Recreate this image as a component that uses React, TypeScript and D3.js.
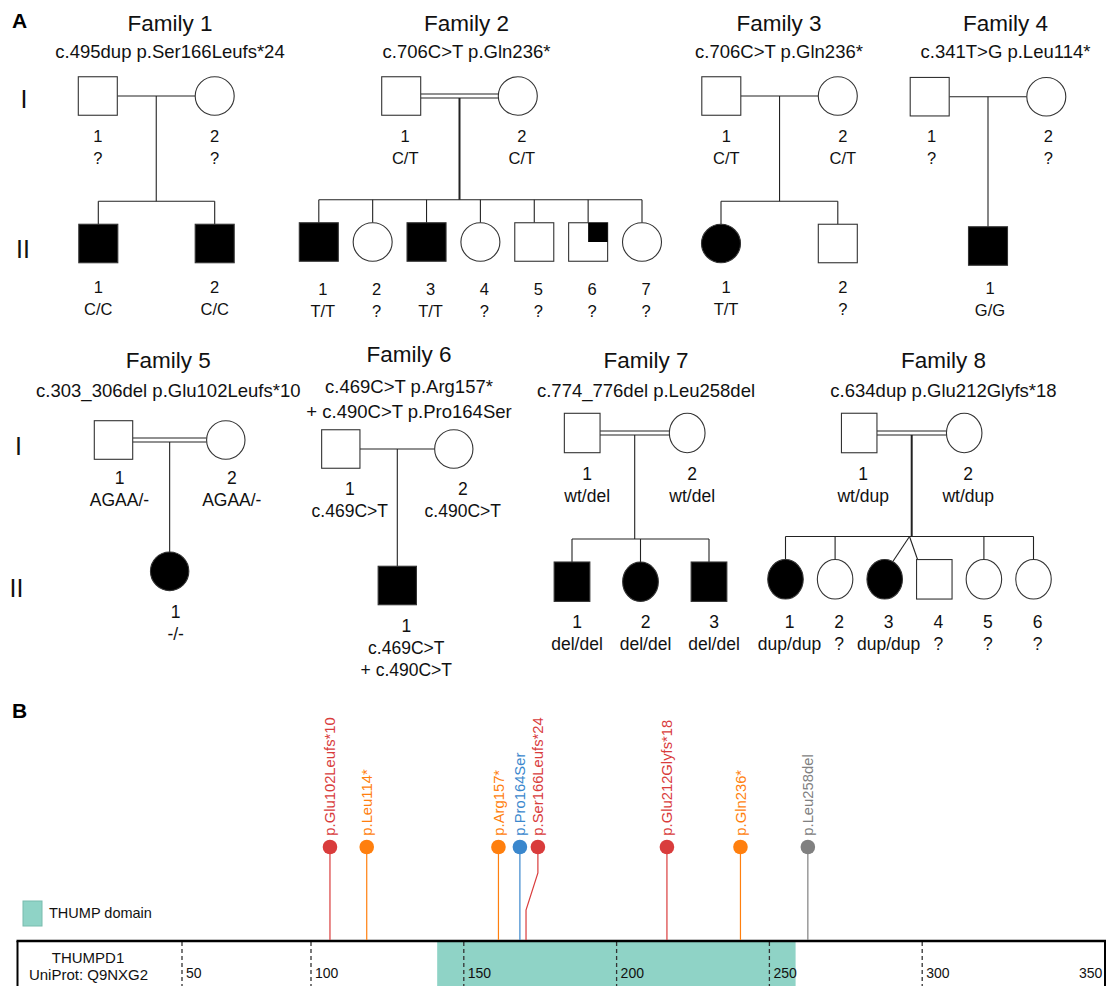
import React from "react";
import * as d3 from "d3";

const FONT = "'Liberation Sans', Arial, Helvetica, sans-serif";

// ---------- panel A: pedigrees ----------
const familyNames = ["Family 1", "Family 2", "Family 3", "Family 4", "Family 5", "Family 6", "Family 7", "Family 8"];
const familyVariants = [
  ["c.495dup p.Ser166Leufs*24"],
  ["c.706C>T p.Gln236*"],
  ["c.706C>T p.Gln236*"],
  ["c.341T>G p.Leu114*"],
  ["c.303_306del p.Glu102Leufs*10"],
  ["c.469C>T p.Arg157*", "+ c.490C>T p.Pro164Ser"],
  ["c.774_776del p.Leu258del"],
  ["c.634dup p.Glu212Glyfs*18"],
];
const consanguineous = [false, true, false, false, true, false, true, true];
// [father, mother] genotype lines
const parentGenotypes = [
  [["?"], ["?"]],
  [["C/T"], ["C/T"]],
  [["C/T"], ["C/T"]],
  [["?"], ["?"]],
  [["AGAA/-"], ["AGAA/-"]],
  [["c.469C>T"], ["c.490C>T"]],
  [["wt/del"], ["wt/del"]],
  [["wt/dup"], ["wt/dup"]],
];
// generation II: sex, status (A affected, U unaffected, Q partly shaded), genotype lines
const offspringSex = [
  ["M", "M"],
  ["M", "F", "M", "F", "M", "M", "F"],
  ["F", "M"],
  ["M"],
  ["F"],
  ["M"],
  ["M", "F", "M"],
  ["F", "F", "F", "M", "F", "F"],
];
const offspringStatus = [
  ["A", "A"],
  ["A", "U", "A", "U", "U", "Q", "U"],
  ["A", "U"],
  ["A"],
  ["A"],
  ["A"],
  ["A", "A", "A"],
  ["A", "U", "A", "U", "U", "U"],
];
const offspringGenotypes = [
  [["C/C"], ["C/C"]],
  [["T/T"], ["?"], ["T/T"], ["?"], ["?"], ["?"], ["?"]],
  [["T/T"], ["?"]],
  [["G/G"]],
  [["-/-"]],
  [["c.469C>T", "+ c.490C>T"]],
  [["del/del"], ["del/del"], ["del/del"]],
  [["dup/dup"], ["?"], ["dup/dup"], ["?"], ["?"], ["?"]],
];
const twinPairs = [null, null, null, null, null, null, null, [2, 3]];

// ---------- panel B: lollipop plot ----------
const proteinName = "THUMPD1";
const proteinId = "UniProt: Q9NXG2";
const proteinEnd = 355;
const domainName = "THUMP domain";
const domainRange = [137, 254];
const mutationLabels = [
  "p.Glu102Leufs*10", "p.Leu114*", "p.Arg157*", "p.Pro164Ser",
  "p.Ser166Leufs*24", "p.Glu212Glyfs*18", "p.Gln236*", "p.Leu258del",
];
const mutationPositions = [102, 114, 157, 164, 166, 212, 236, 258];
const mutationClasses = [
  "frameshift", "nonsense", "nonsense", "missense",
  "frameshift", "frameshift", "nonsense", "inframe",
];
const axisTicks = [50, 100, 150, 200, 250, 300, 350];

// ---------- layout (pixels) ----------
const pedLayout = [
  { tx: 170, ty: 31, sy: 58, fx: 97.8, mx: 214.7, k0: 98.3, k1: 214.7, yI: 96, yII: 243.5, w: 39, h: 38.5, lI: 45.5, lII: 49.5, dx: 0, descW: 1.1, fs: 16.5 },
  { tx: 466.5, ty: 31, sy: 58, fx: 401.2, mx: 517.8, k0: 318.8, k1: 642, yI: 96, yII: 242, w: 39, h: 38.5, lI: 45.5, lII: 53, dx: 4, descW: 2, fs: 16.5 },
  { tx: 779, ty: 31, sy: 58, fx: 721.3, mx: 837.8, k0: 721, k1: 837.8, yI: 96, yII: 243.5, w: 39, h: 38.5, lI: 45.5, lII: 49.5, dx: 5, descW: 1.1, fs: 16.5 },
  { tx: 1005.5, ty: 31, sy: 58, fx: 929.7, mx: 1046.3, k0: 988, k1: 988, yI: 96.7, yII: 246, w: 39, h: 38.5, lI: 45, lII: 47.5, dx: 2, descW: 1.1, fs: 16.5 },
  { tx: 168.3, ty: 368.3, sy: 396.7, fx: 113.5, mx: 225.8, k0: 169, k1: 169, yI: 440, yII: 571.3, w: 38.4, h: 38.6, lI: 43.5, lII: 47, dx: 6, descW: 1.1, fs: 17.5 },
  { tx: 409, ty: 361.7, sy: 393.3, fx: 340.8, mx: 453.8, k0: 397, k1: 397, yI: 449, yII: 585.5, w: 38.3, h: 38.5, lI: 46, lII: 46.2, dx: 9, descW: 1.1, fs: 17.5 },
  { tx: 646, ty: 368.3, sy: 396.7, fx: 582.2, mx: 687.2, k0: 572, k1: 709, yI: 433, yII: 581.7, w: 35.7, h: 39.4, lI: 47, lII: 46.6, dx: 5, descW: 1.1, fs: 17.5 },
  { tx: 943.5, ty: 368.3, sy: 396.7, fx: 859.2, mx: 964.2, k0: 785.5, k1: 1033.5, yI: 433, yII: 579.3, w: 35.5, h: 39.5, lI: 47, lII: 49, dx: 4, descW: 2, fs: 17.5 },
];
const genLabels = [
  { text: "I", x: 24, y: 108 },
  { text: "II", x: 23, y: 258 },
  { text: "I", x: 18.5, y: 455 },
  { text: "II", x: 16.5, y: 597 },
];

const LINE = "#222";

const Person = ({ sex, status, cx, cy, w, h }) => {
  const fill = status === "A" ? "#000" : "#fff";
  if (sex === "F") {
    return <ellipse cx={cx} cy={cy} rx={w / 2} ry={h / 2} fill={fill} stroke="#333" strokeWidth={1.1} />;
  }
  return (
    <g>
      <rect x={cx - w / 2} y={cy - h / 2} width={w} height={h} fill={fill} stroke="#333" strokeWidth={1.1} />
      {status === "Q" && <rect x={cx} y={cy - h / 2} width={w / 2} height={h / 2} fill="#000" />}
    </g>
  );
};

const Labels = ({ x, y, lines, fs }) => (
  <text x={x} y={y} textAnchor="middle" fontSize={fs} fill="#111">
    {lines.map((l, k) => (
      <tspan key={k} x={x} dy={k === 0 ? 0 : 22}>{l}</tspan>
    ))}
  </text>
);

const Pedigree = ({ i }) => {
  const L = pedLayout[i];
  const sexes = offspringSex[i];
  const n = sexes.length;
  const midX = (L.fx + L.mx) / 2;
  const kidX = d3.scalePoint().domain(d3.range(n)).range(n > 1 ? [L.k0, L.k1] : [midX, midX]);
  const sibY = L.yII - L.h / 2 - 23;
  const kidTop = L.yII - L.h / 2;
  const twins = twinPairs[i];
  const dbl = consanguineous[i];

  const drops = d3.range(n).filter((j) => !twins || !twins.includes(j));

  return (
    <g>
      <text x={L.tx} y={L.ty} textAnchor="middle" fontSize={22.5} fill="#111">{familyNames[i]}</text>
      {familyVariants[i].map((v, k) => (
        <text key={k} x={L.tx} y={L.sy + k * 25} textAnchor="middle" fontSize={18.5} fill="#111">{v}</text>
      ))}

      {/* mating line */}
      {dbl ? (
        <g stroke={LINE} strokeWidth={1.1}>
          <line x1={L.fx + L.w / 2} x2={L.mx - L.w / 2} y1={L.yI - 2} y2={L.yI - 2} />
          <line x1={L.fx + L.w / 2} x2={L.mx - L.w / 2} y1={L.yI + 2} y2={L.yI + 2} />
        </g>
      ) : (
        <line x1={L.fx + L.w / 2} x2={L.mx - L.w / 2} y1={L.yI} y2={L.yI} stroke={LINE} strokeWidth={1.1} />
      )}

      {/* descent line */}
      <line x1={midX} x2={midX} y1={L.yI + (dbl ? 2 : 0)} y2={n > 1 ? sibY : kidTop} stroke={LINE} strokeWidth={L.descW} />

      {n > 1 && (
        <line x1={kidX(0)} x2={kidX(n - 1)} y1={sibY} y2={sibY} stroke={LINE} strokeWidth={1.1} />
      )}
      {n > 1 && drops.map((j) => (
        <line key={j} x1={kidX(j)} x2={kidX(j)} y1={sibY} y2={kidTop} stroke={LINE} strokeWidth={1.1} />
      ))}
      {twins && (() => {
        const ax = (kidX(twins[0]) + kidX(twins[1])) / 2;
        return twins.map((j) => {
          const cx = kidX(j);
          const left = cx < ax;
          const ex = sexes[j] === "F" ? cx + (left ? 1 : -1) * 0.45 * L.w / 2 : cx + (left ? 1 : -1) * (L.w / 2 - 1);
          const ey = sexes[j] === "F" ? L.yII - 0.89 * L.h / 2 : kidTop;
          return <line key={j} x1={ax} y1={sibY} x2={ex} y2={ey} stroke={LINE} strokeWidth={1.1} />;
        });
      })()}

      {/* generation I */}
      <Person sex="M" status="U" cx={L.fx} cy={L.yI} w={L.w} h={L.h} />
      <Person sex="F" status="U" cx={L.mx} cy={L.yI} w={L.w} h={L.h} />
      <Labels x={L.fx + L.dx} y={L.yI + L.lI} fs={L.fs} lines={["1", ...parentGenotypes[i][0]]} />
      <Labels x={L.mx + L.dx} y={L.yI + L.lI} fs={L.fs} lines={["2", ...parentGenotypes[i][1]]} />

      {/* generation II */}
      {sexes.map((s, j) => (
        <g key={j}>
          <Person sex={s} status={offspringStatus[i][j]} cx={kidX(j)} cy={L.yII} w={L.w} h={L.h} />
          <Labels x={kidX(j) + L.dx} y={L.yII + L.lII} fs={L.fs} lines={[String(j + 1), ...offspringGenotypes[i][j]]} />
        </g>
      ))}
    </g>
  );
};

export default function App() {
  // protein coordinate -> x
  const xProt = d3.scaleLinear().domain([0, proteinEnd]).range([17.5, 1105]);
  // tick marks as printed on the original axis
  const tickX = d3.scaleLinear().domain([50, 100, 350]).range([182, 311, 1075]);
  const color = d3
    .scaleOrdinal<string, string>()
    .domain(["frameshift", "nonsense", "missense", "inframe"])
    .range(["#d93c3c", "#ff7f0e", "#3a87cd", "#808080"]);

  const axisY = 941;
  const headY = 847;
  const r = 7.3;
  const bendTop = 873;
  const bendBottom = 910;
  const minGap = 18;

  // push heads apart when they would overlap
  let prev = -Infinity;
  const heads = mutationPositions.map((p, i) => {
    const x = xProt(p);
    const hx = Math.max(x, prev + minGap);
    prev = hx;
    return { x, hx, label: mutationLabels[i], c: color(mutationClasses[i]) };
  });

  const boxLeft = xProt(0);
  const boxRight = xProt(proteinEnd);
  const teal = "#8fd3c6";

  return (
    <div style={{ position: "absolute", left: 0, top: 0 }}>
      <svg width={1111} height={986} style={{ display: "block", fontFamily: FONT }}>
        <rect width={1111} height={986} fill="#fff" />

        <text x={12} y={28} fontSize={21} fontWeight="bold">A</text>
        <text x={12} y={718} fontSize={21} fontWeight="bold">B</text>

        {genLabels.map((g, k) => (
          <text key={k} x={g.x} y={g.y} textAnchor="middle" fontSize={25} fill="#111">{g.text}</text>
        ))}

        {familyNames.map((_, i) => <Pedigree key={i} i={i} />)}

        {/* legend */}
        <rect x={23} y={901} width={19} height={25} fill={teal} stroke="#78bcae" strokeWidth={1} />
        <text x={49} y={918} fontSize={14.5} fill="#111">{domainName}</text>

        {/* domain and protein box */}
        <rect x={xProt(domainRange[0])} y={axisY} width={xProt(domainRange[1]) - xProt(domainRange[0])} height={60} fill={teal} />
        {axisTicks.slice(0, -1).map((t) => (
          <line key={t} x1={tickX(t)} x2={tickX(t)} y1={axisY + 1} y2={990} stroke="#333" strokeWidth={1.3} strokeDasharray="4 3" />
        ))}
        {axisTicks.map((t) => (
          <text key={t} x={tickX(t) + 4} y={978.3} fontSize={14} fill="#111">{t}</text>
        ))}
        <line x1={boxLeft} x2={boxLeft} y1={axisY} y2={990} stroke="#000" strokeWidth={2} />
        <line x1={boxRight} x2={boxRight} y1={axisY} y2={990} stroke="#000" strokeWidth={2} />
        <line x1={boxLeft - 1} x2={boxRight + 1} y1={axisY} y2={axisY} stroke="#000" strokeWidth={2.6} />
        <text x={88} y={962.7} textAnchor="middle" fontSize={15} fill="#111">{proteinName}</text>
        <text x={88.5} y={980} textAnchor="middle" fontSize={15} fill="#111">{proteinId}</text>

        {/* lollipops */}
        {heads.map((h, i) => (
          <g key={i}>
            <path
              d={`M${h.hx},${headY}V${bendTop}L${h.x},${bendBottom}V${axisY - 1}`}
              fill="none"
              stroke={h.c}
              strokeWidth={1.2}
            />
            <circle cx={h.hx} cy={headY} r={r} fill={h.c} />
            <text
              transform={`translate(${h.hx},${headY - r - 4}) rotate(-90)`}
              dy="0.35em"
              fontSize={14.8}
              fill={h.c}
            >
              {h.label}
            </text>
          </g>
        ))}
      </svg>
    </div>
  );
}
